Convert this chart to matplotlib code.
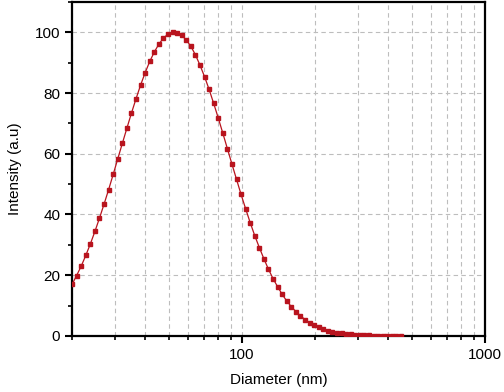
import matplotlib
matplotlib.use("Agg")
import matplotlib.pyplot as plt
from matplotlib.ticker import LogLocator, NullFormatter, FixedLocator, MultipleLocator

plt.rcParams['font.family'] = ['Liberation Sans', 'DejaVu Sans']

# particle size distribution
diameter = [20.0, 20.88, 21.81, 22.77, 23.78, 24.83, 25.93, 27.08, 28.28, 29.53,
            30.83, 32.20, 33.62, 35.11, 36.66, 38.28, 39.98, 41.75, 43.59, 45.52,
            47.54, 49.64, 51.84, 54.13, 56.53, 59.03, 61.64, 64.37, 67.21, 70.19,
            73.29, 76.53, 79.92, 83.45, 87.14, 91.00, 95.02, 99.23, 103.6, 108.2,
            113.0, 118.0, 123.2, 128.6, 134.3, 140.3, 146.5, 153.0, 159.7, 166.8,
            174.2, 181.9, 189.9, 198.3, 207.1, 216.3, 225.8, 235.8, 246.3, 257.2,
            268.6, 280.4, 292.8, 305.8, 319.3, 333.4, 348.2, 363.6, 379.7, 396.5,
            414.0, 432.3, 451.5]
intensity = [17.0, 19.9, 23.0, 26.5, 30.3, 34.4, 38.8, 43.4, 48.2, 53.2,
             58.3, 63.4, 68.4, 73.4, 78.1, 82.6, 86.7, 90.4, 93.5, 96.1,
             98.1, 99.4, 100.0, 99.8, 99.0, 97.5, 95.4, 92.6, 89.2, 85.4,
             81.2, 76.6, 71.8, 66.8, 61.7, 56.6, 51.6, 46.6, 41.9, 37.3,
             33.0, 29.1, 25.4, 22.0, 18.9, 16.2, 13.7, 11.5, 9.66, 8.02,
             6.61, 5.41, 4.40, 3.55, 2.85, 2.27, 1.79, 1.41, 1.10, 0.85,
             0.65, 0.50, 0.38, 0.28, 0.21, 0.16, 0.12, 0.08, 0.06, 0.04,
             0.03, 0.02, 0.02]

x_ticks = [100, 1000]
x_tick_labels = ["100", "1000"]
y_ticks = [0, 20, 40, 60, 80, 100]

fig = plt.figure(figsize=(5.04, 3.92), dpi=100)
ax = fig.add_axes([0.143, 0.143, 0.819, 0.852])

ax.plot(diameter, intensity, color='#B8141E', lw=0.9, marker='s', ms=2.4,
        mec='#B8141E', mfc='#B8141E', zorder=3)

ax.set_xscale('log')
ax.set_xlim(20, 1000)
ax.set_ylim(0, 110)

ax.xaxis.set_major_locator(FixedLocator(x_ticks))
ax.set_xticklabels(x_tick_labels)
ax.xaxis.set_minor_locator(LogLocator(base=10, subs=range(2, 10)))
ax.xaxis.set_minor_formatter(NullFormatter())
ax.set_yticks(y_ticks)
ax.yaxis.set_minor_locator(MultipleLocator(10))

ax.grid(True, which='major', axis='both', ls=(0, (4, 3)), color='#bdbdbd', lw=0.8)
ax.grid(True, which='minor', axis='x', ls=(0, (4, 3)), color='#bdbdbd', lw=0.8)
ax.set_axisbelow(True)

for sp in ax.spines.values():
    sp.set_linewidth(1.6)
ax.tick_params(which='major', direction='out', length=5, width=1.5, labelsize=11,
               top=False, right=False)
ax.tick_params(which='minor', direction='out', length=3, width=1.2,
               top=False, right=False)

ax.set_xlabel('Diameter (nm)', fontsize=11, labelpad=8)
ax.set_ylabel('Intensity (a.u)', fontsize=11, labelpad=9)

fig.savefig('out.png', dpi=100)
